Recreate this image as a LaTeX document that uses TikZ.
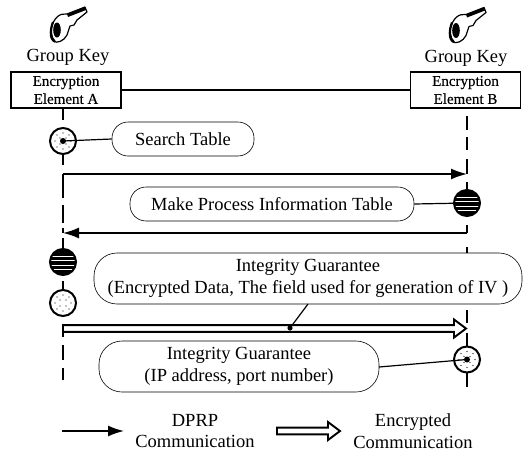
\documentclass[tikz,border=0pt]{standalone}
\usepackage{fontspec}
\setmainfont{Liberation Serif}
\newfontfamily\boxfont[FakeBold=0.35]{Liberation Serif}
\usetikzlibrary{arrows.meta,calc}
\tikzset{
  x=1pt,y=-1pt,
  big/.style={font=\fontsize{18.5}{21.5}\selectfont,align=center,inner sep=0pt},
  small/.style={font=\boxfont\fontsize{15}{18}\selectfont,align=center},
  elembox/.style={draw,line width=1.2pt,fill=white,minimum width=110pt,minimum height=36pt,inner sep=0pt,small},
  pill/.style={draw,line width=0.6pt,fill=white,big},
  disc/.style={circle,draw,line width=2pt,fill=white,minimum size=26pt,inner sep=0pt},
  dotted disc/.style={disc,path picture={
      \foreach \dx/\dy in {-6/-6,0/-8,6/-6,-8/0,8/0,-6/6,0/8,6/6,-3/-3,3/-3,-3/3,3/3}
        \fill[black] ([shift={(\dx,\dy)}]path picture bounding box.center) circle (0.6pt);}},
  striped disc/.style={disc,fill=black,path picture={
      \foreach \dy in {-6,-1.5,3,7.5}
        \draw[white,line width=0.9pt] ([shift={(-14,\dy)}]path picture bounding box.center) -- ++(28,0);}},
  life/.style={line width=1.2pt},
  link/.style={line width=1.2pt},
  msg/.style={line width=1.6pt,-{Latex[length=16pt,width=11pt]}},
  hollow/.style={line width=1.9pt,fill=white,to path={
      ($(\tikztostart)+(0,-3.4)$) -- ($(\tikztotarget)+(-12,-3.4)$) -- ($(\tikztotarget)+(-12,-9)$) --
      (\tikztotarget) -- ($(\tikztotarget)+(-12,9)$) -- ($(\tikztotarget)+(-12,3.4)$) --
      ($(\tikztostart)+(0,3.4)$) -- cycle}},
  keyicon/.pic={
    \draw[line width=1.2pt,fill=white,line join=round]
      (1,22) .. controls (4,10) and (10,6) .. (17,7) -- (35,0) -- (37,5) -- (27,13) -- (24,18) -- (20,19)
      -- (17,28) .. controls (14,34) and (7,37) .. (3,34) .. controls (0,31) and (0,27) .. (1,22) -- cycle;
    \fill (7,23) ellipse (3.8pt and 7.5pt);
    \fill (17,7) -- (35,0) -- (36,3) -- (18,10) -- cycle;
    \draw[line width=2.2pt] (3,15) .. controls (0,23) and (0,30) .. (5,35);
  }
}
\begin{document}
\begin{tikzpicture}
\useasboundingbox (0,0) rectangle (527,455);

% keys and key captions
\pic at (50,7) {keyicon};
\pic at (449,7.5) {keyicon};
\node[big] (gkA) at (68,57) {Group Key};
\node[big] (gkB) at (466,58) {Group Key};

% elements
\node[elembox] (A) at (66,90) {Encryption\\Element A};
\node[elembox] (B) at (465.5,90) {Encryption\\Element B};
\draw[link,line width=1.4pt] (A) -- (B);

% lifeline way points
\foreach \n/\y in {a1/108,a2/120,a3/155,a4/165,a5/174,a6/198,a7/205,a8/223,a9/228,a10/233,
                   a11/238,a12/249,a13/281,a14/290,a15/325,a16/337,a17/345,a18/360,a19/368,a20/380}
  \coordinate (\n) at (63,\y);
\foreach \n/\y in {b1/116,b2/130,b3/137,b4/150,b5/159,b6/174,b7/182,b8/217,b9/225,b10/233,
                   b11/247,b12/254,b13/310,b14/323,b15/333,b16/346,b17/373,b18/387}
  \coordinate (\n) at (467,\y);

\foreach \p/\q in {a1/a2,a3/a4,a5/a6,a7/a8,a9/a10,a11/a12,a13/a14,a15/a16,a17/a18,a19/a20,
                   b1/b2,b3/b4,b5/b6,b7/b8,b9/b10,b11/b12,b13/b14,b15/b16,b17/b18}
  \draw[life] (\p) -- (\q);

% messages
\draw[msg] (a5) -- (b6);
\draw[msg] (b10) -- (a10);
\coordinate (hs) at (63,328.5);
\coordinate (he) at (466,328.5);
\draw[hollow] (hs) to (he);

% discs
\node[dotted disc] (c1) at (63,141) {};
\node[striped disc] (c2) at (467,203) {};
\node[striped disc] (c3) at (63,262) {};
\node[dotted disc] (c4) at (63,303) {};
\node[dotted disc] (c5) at (467,359.5) {};

% annotations
\node[pill,minimum width=142pt,minimum height=34pt,rounded corners=16pt] (p1) at (183,139) {Search Table};
\node[pill,minimum width=284pt,minimum height=34pt,rounded corners=16pt] (p2) at (272,204) {Make Process Information Table};
\node[pill,minimum width=428pt,minimum height=51pt,rounded corners=23pt] (p3) at (308,278.5) {Integrity Guarantee\\(Encrypted Data, The field used for generation of IV )};
\node[pill,minimum width=280pt,minimum height=51pt,rounded corners=23pt] (p4) at (239,366.5) {Integrity Guarantee\\(IP address, port number)};

% annotation links
\draw[link] (c1.center) -- (p1.west);
\draw[link] (p2.east) -- (c2);
\coordinate (p3foot) at (308,304);
\coordinate (hit) at (290,328);
\draw[link] (p3foot) -- (hit);
\fill (hit) circle (2.6pt);
\coordinate (p4out) at (379,367);
\draw[link] (p4out) -- (c5.center);
\fill (c1.center) circle (3pt);
\fill (c5.center) circle (3pt);

% legend
\coordinate (l1) at (62,431);
\coordinate (l2) at (124,431);
\draw[msg] (l1) -- (l2);
\node[big] (t1) at (195,431) {DPRP\\Communication};
\coordinate (l3) at (277,431);
\coordinate (l4) at (340,431);
\draw[hollow] (l3) to (l4);
\node[big] (t2) at (413,431) {Encrypted\\Communication};
\end{tikzpicture}
\end{document}
